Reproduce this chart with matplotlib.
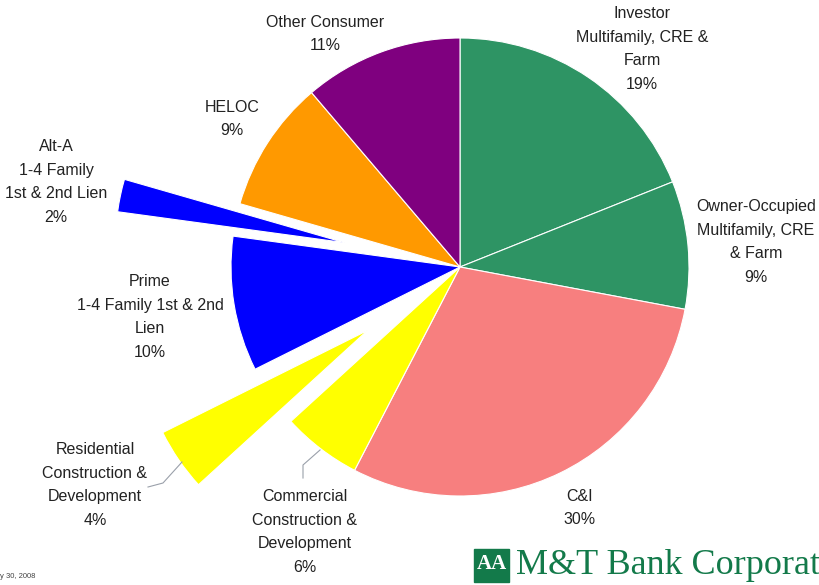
import matplotlib
matplotlib.use("Agg")
import matplotlib.pyplot as plt
from matplotlib.patches import Rectangle

# ---- data ----
categories = [
    "Investor\nMultifamily, CRE &\nFarm",
    "Owner-Occupied\nMultifamily, CRE\n& Farm",
    "C&I",
    "Commercial\nConstruction &\nDevelopment",
    "Residential\nConstruction &\nDevelopment",
    "Prime\n1-4 Family 1st & 2nd\nLien",
    "Alt-A\n1-4 Family\n1st & 2nd Lien",
    "HELOC",
    "Other Consumer",
]
shares = [18.9, 9.0, 29.6, 5.6, 4.4, 9.5, 2.3, 9.3, 11.2]
shown_pct = [19, 9, 30, 6, 4, 10, 2, 9, 11]

# ---- style ----
colors = ["#2E9464", "#2E9464", "#F77F7F", "#FFFF00", "#FFFF00",
          "#0000FF", "#0000FF", "#FF9900", "#7F007F"]
explode_px = [0, 0, 0, 0, 112, 0, 118, 0, 0]
label_pos = [(642, 49), (756, 242), (580, 508), (305, 532), (95, 485),
             (150, 317), (56, 182), (232, 119), (325, 34)]

W, H = 819, 585
fig = plt.figure(figsize=(W / 100, H / 100), dpi=100)
ax = fig.add_axes([0, 0, 1, 1])

def Y(y):
    return H - y

ax.pie(shares, colors=colors, explode=explode_px, startangle=90,
       counterclock=False, radius=229, center=(460, Y(267)),
       wedgeprops=dict(edgecolor="white", linewidth=0.8), frame=True)
ax.set_xlim(0, W)
ax.set_ylim(0, H)
ax.axis("off")
ax.set_aspect("equal")

font = ["Liberation Sans", "DejaVu Sans"]
for name, pct, (x, y) in zip(categories, shown_pct, label_pos):
    ax.text(x, Y(y), f"{name}\n{pct}%", ha="center", va="center",
            fontsize=11.5, family=font, color="#222222", linespacing=1.72)

# leader lines
ax.plot([148, 163, 182], [Y(487), Y(483), Y(462)], color="#9AA0AA", lw=0.8)
ax.plot([303, 303, 320], [Y(478), Y(465), Y(450)], color="#9AA0AA", lw=0.8)

# footer
ax.text(0, Y(577), "y 30, 2008", fontsize=5.5, family=font, color="#444444",
        ha="left", va="center")
green = "#137A4A"
ax.add_patch(Rectangle((474, Y(582)), 35, 33, color=green))
ax.text(491.5, Y(564), "AA", fontsize=15, family="Liberation Serif",
        fontweight="bold", color="white", ha="center", va="center")
ax.text(516, Y(566), "M&T Bank Corporation", fontsize=26,
        family="Liberation Serif", color=green, ha="left", va="center")

fig.savefig("out.png", dpi=100)
